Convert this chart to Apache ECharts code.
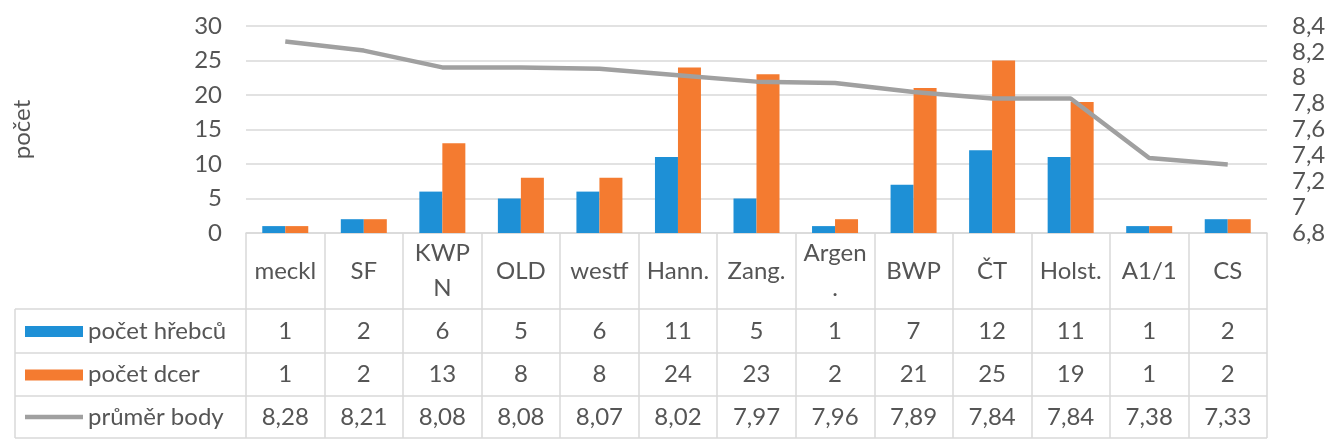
<!DOCTYPE html>
<html>
<head>
<meta charset="utf-8">
<script src="https://cdn.jsdelivr.net/npm/echarts@6/dist/echarts.min.js"></script>
<style>
  html, body { margin: 0; padding: 0; background: #fff; }
  #chart { width: 1331px; height: 448px; }
</style>
</head>
<body>
<div id="chart"></div>
<script>
// data
var categories = ['meckl', 'SF', 'KWP\nN', 'OLD', 'westf', 'Hann.', 'Zang.', 'Argen\n.', 'BWP', 'ČT', 'Holst.', 'A1/1', 'CS'];
var hrebcu = [1, 2, 6, 5, 6, 11, 5, 1, 7, 12, 11, 1, 2];
var dcer = [1, 2, 13, 8, 8, 24, 23, 2, 21, 25, 19, 1, 2];
var prumer = [8.28, 8.21, 8.08, 8.08, 8.07, 8.02, 7.97, 7.96, 7.89, 7.84, 7.84, 7.38, 7.33];
var seriesNames = ['počet hřebců', 'počet dcer', 'průměr body'];

var colors = ['#1E90D6', '#F47B30', '#A0A0A0'];
var textColor = '#555555';
var lineColor = '#D9D9D9';
var font = 'Lato, "Open Sans", sans-serif';
var fs = 24;

// layout
var L = 246, R = 1267, T = 26, B = 233;
var rowY = [309, 353, 396, 438];
var tableLeft = 15;

function comma(v) { return String(v).replace('.', ','); }

var chart = echarts.init(document.getElementById('chart'));

var option = {
    animation: false,
    color: colors,
    textStyle: { fontFamily: font },
    grid: { left: L, right: 1331 - R, top: T, bottom: 448 - B },
    xAxis: [{
        type: 'category',
        data: categories,
        axisLine: { lineStyle: { color: lineColor, width: 1.5 } },
        axisTick: { show: true, length: rowY[3] - B, lineStyle: { color: lineColor, width: 1.5 } },
        axisLabel: {
            interval: 0, margin: 38, verticalAlign: 'middle', lineHeight: 35,
            fontSize: fs, color: textColor, fontFamily: font
        }
    }],
    yAxis: [{
        type: 'value', min: 0, max: 30, interval: 5,
        name: 'počet', nameLocation: 'middle', nameRotate: 90, nameGap: 212,
        nameTextStyle: { fontSize: fs, color: textColor, fontFamily: font },
        axisLine: { show: false }, axisTick: { show: false },
        axisLabel: { margin: 24, fontSize: fs, color: textColor, fontFamily: font },
        splitLine: { lineStyle: { color: lineColor, width: 1.5 } }
    }, {
        type: 'value', min: 6.8, max: 8.4, interval: 0.2, position: 'right',
        axisLine: { show: false }, axisTick: { show: false },
        axisLabel: { margin: 25, fontSize: fs, color: textColor, fontFamily: font, formatter: comma },
        splitLine: { show: false }
    }],
    series: [{
        name: seriesNames[0], type: 'bar', data: hrebcu,
        barWidth: 23, barGap: '0%'
    }, {
        name: seriesNames[1], type: 'bar', data: dcer,
        barWidth: 23, barGap: '0%'
    }, {
        name: seriesNames[2], type: 'line', yAxisIndex: 1, data: prumer,
        symbol: 'none', lineStyle: { width: 4.5, color: colors[2] }
    }]
};
chart.setOption(option);

// data table under the plot
var rows = [hrebcu, dcer, prumer.map(function (v) { return comma(v.toFixed(2)); })];
var graphic = [];
var tStyle = { fontSize: fs, fill: textColor, fontFamily: font };

rowY.forEach(function (y) {
    graphic.push({ type: 'line', shape: { x1: tableLeft, y1: y, x2: R, y2: y }, style: { stroke: lineColor, lineWidth: 1.5 } });
});
graphic.push({ type: 'line', shape: { x1: tableLeft, y1: rowY[0], x2: tableLeft, y2: rowY[3] }, style: { stroke: lineColor, lineWidth: 1.5 } });

rows.forEach(function (vals, r) {
    var cy = (rowY[r] + rowY[r + 1]) / 2;
    // legend key
    if (r < 2) {
        graphic.push({ type: 'rect', shape: { x: 25, y: cy - 5, width: 58, height: 11 }, style: { fill: colors[r] } });
    } else {
        graphic.push({ type: 'line', shape: { x1: 25, y1: cy, x2: 83, y2: cy }, style: { stroke: colors[2], lineWidth: 4.5 } });
    }
    graphic.push({ type: 'text', x: 88, y: cy, style: Object.assign({ text: seriesNames[r], align: 'left', verticalAlign: 'middle' }, tStyle) });
    vals.forEach(function (v, i) {
        var x = chart.convertToPixel({ xAxisIndex: 0 }, i);
        graphic.push({ type: 'text', x: x, y: cy, style: Object.assign({ text: String(v), align: 'center', verticalAlign: 'middle' }, tStyle) });
    });
});

chart.setOption({ graphic: graphic });
</script>
</body>
</html>
